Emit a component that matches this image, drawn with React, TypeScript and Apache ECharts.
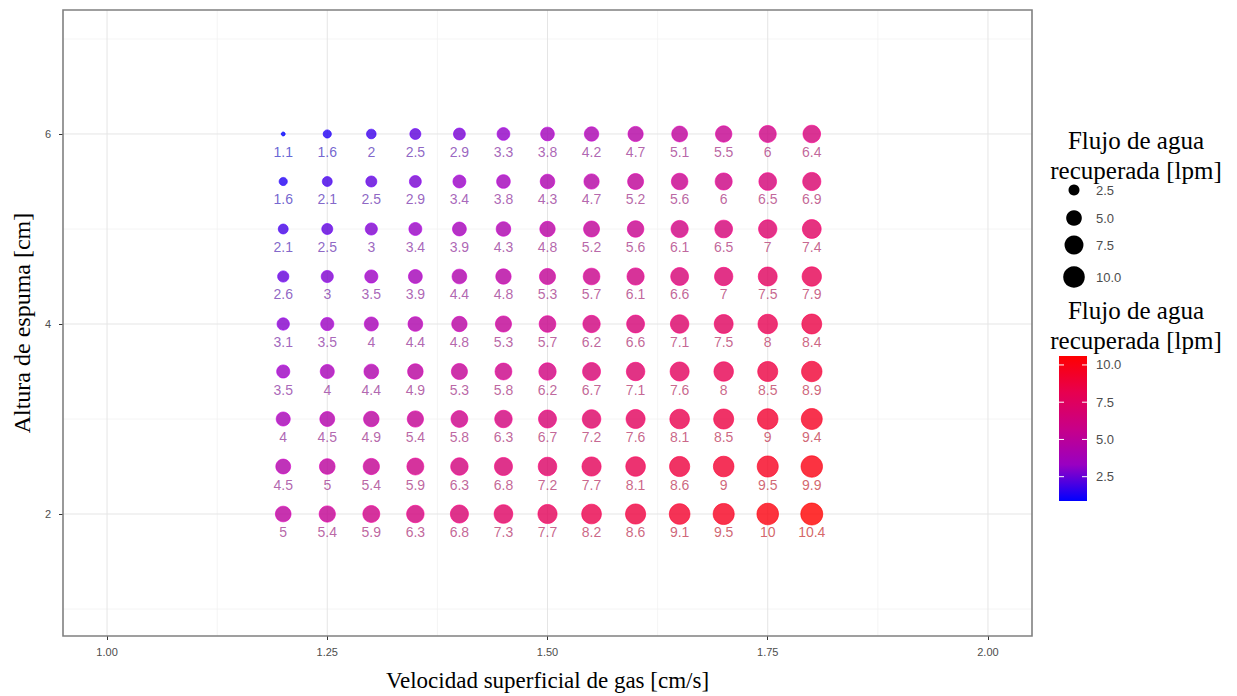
import React, { useEffect, useRef } from "react";
import * as echarts from "echarts";

const gasVelocity = [1.2, 1.25, 1.3, 1.35, 1.4, 1.45, 1.5, 1.55, 1.6, 1.65, 1.7, 1.75, 1.8];
const foamHeight = [6, 5.5, 5, 4.5, 4, 3.5, 3, 2.5, 2];
const flowRows = [
  [1.1, 1.6, 2, 2.5, 2.9, 3.3, 3.8, 4.2, 4.7, 5.1, 5.5, 6, 6.4],
  [1.6, 2.1, 2.5, 2.9, 3.4, 3.8, 4.3, 4.7, 5.2, 5.6, 6, 6.5, 6.9],
  [2.1, 2.5, 3, 3.4, 3.9, 4.3, 4.8, 5.2, 5.6, 6.1, 6.5, 7, 7.4],
  [2.6, 3, 3.5, 3.9, 4.4, 4.8, 5.3, 5.7, 6.1, 6.6, 7, 7.5, 7.9],
  [3.1, 3.5, 4, 4.4, 4.8, 5.3, 5.7, 6.2, 6.6, 7.1, 7.5, 8, 8.4],
  [3.5, 4, 4.4, 4.9, 5.3, 5.8, 6.2, 6.7, 7.1, 7.6, 8, 8.5, 8.9],
  [4, 4.5, 4.9, 5.4, 5.8, 6.3, 6.7, 7.2, 7.6, 8.1, 8.5, 9, 9.4],
  [4.5, 5, 5.4, 5.9, 6.3, 6.8, 7.2, 7.7, 8.1, 8.6, 9, 9.5, 9.9],
  [5, 5.4, 5.9, 6.3, 6.8, 7.3, 7.7, 8.2, 8.6, 9.1, 9.5, 10, 10.4],
];
const xTicks = [1.0, 1.25, 1.5, 1.75, 2.0];
const xMinorGrid = [1.125, 1.375, 1.625, 1.875];
const yTicks = [2, 4, 6];
const yMinorGrid = [1, 3, 5, 7];
const legendSizes = [2.5, 5.0, 7.5, 10.0];
const colorbarTicks = [2.5, 5.0, 7.5, 10.0];

const X_MIN = 0.95, X_MAX = 2.05, Y_MIN = 0.716, Y_MAX = 7.305;
const FLOW_MIN = 1.1;
const FLOW_MAX = 10.4;
const gradientStops = ["#0000FF", "#9900C2", "#C80088", "#E7004F", "#FF0000"];

const norm = (v: number) => Math.max(0, Math.min(1, (v - FLOW_MIN) / (FLOW_MAX - FLOW_MIN)));
const colorOf = (v: number) => echarts.color.lerp(norm(v), gradientStops) as string;
const sizeOf = (v: number) => 4 + 18 * Math.sqrt(norm(v));

export default function App() {
  const ref = useRef<HTMLDivElement>(null);
  useEffect(() => {
    document.body.style.margin = "0";
    const chart = echarts.init(ref.current!, null, { renderer: "svg" });

    const data: any[] = [];
    foamHeight.forEach((h, r) => {
      gasVelocity.forEach((g, c) => {
        const v = flowRows[r][c];
        const col = colorOf(v);
        data.push({
          value: [g, h, v],
          symbolSize: sizeOf(v),
          itemStyle: { color: col, borderColor: echarts.color.lift(col, -0.2), borderWidth: 0.8 },
          label: { color: echarts.color.lerp(0.45, [col, "#8a8a8a"]) },
        });
      });
    });

    const sans = "Liberation Sans";
    const serif = "Liberation Serif";
    const tickColor = "#4D4D4D";

    const cbX = 1059, cbW = 28, cbTop = 356, cbBottom = 501;
    const cbY = (v: number) => 476.7 - (v - 2.5) * 14.9;
    const legendX = 1074;
    const legendDotY = [190, 218, 245, 277];
    const titleCenterX = 1136;

    const titleText = (top: number) => ({
      type: "text",
      x: titleCenterX,
      y: top,
      style: {
        text: "Flujo de agua\nrecuperada [lpm]",
        font: `25px "${serif}"`,
        fill: "#000",
        align: "center",
        verticalAlign: "top",
        lineHeight: 30,
      },
    });

    const graphics: any[] = [
      titleText(125),
      titleText(295),
      {
        type: "rect",
        shape: { x: cbX, y: cbTop, width: cbW, height: cbBottom - cbTop },
        style: {
          fill: new echarts.graphic.LinearGradient(
            0, 1, 0, 0,
            gradientStops.map((c, i) => ({ offset: i / (gradientStops.length - 1), color: c }))
          ),
        },
      },
    ];
    legendSizes.forEach((v, i) => {
      graphics.push({
        type: "circle",
        shape: { cx: legendX, cy: legendDotY[i], r: sizeOf(v) / 2 },
        style: { fill: "#000" },
      });
      graphics.push({
        type: "text",
        x: 1096,
        y: legendDotY[i],
        style: { text: v.toFixed(1), font: `13px "${sans}"`, fill: tickColor, verticalAlign: "middle" },
      });
    });
    colorbarTicks.forEach((v) => {
      const y = cbY(v);
      graphics.push({ type: "line", shape: { x1: cbX, y1: y, x2: cbX + 5, y2: y }, style: { stroke: "#fff", lineWidth: 1 } });
      graphics.push({ type: "line", shape: { x1: cbX + cbW - 5, y1: y, x2: cbX + cbW, y2: y }, style: { stroke: "#fff", lineWidth: 1 } });
      graphics.push({
        type: "text",
        x: 1096,
        y,
        style: { text: v.toFixed(1), font: `13px "${sans}"`, fill: tickColor, verticalAlign: "middle" },
      });
    });

    const gridSeries = (pts: number[][], color: string, width: number) => ({
      type: "line",
      data: pts,
      symbol: "none",
      silent: true,
      z: 1,
      lineStyle: { color, width },
    });
    const grids: any[] = [
      ...xMinorGrid.map((x) => gridSeries([[x, Y_MIN], [x, Y_MAX]], "#F1F1F1", 0.8)),
      ...yMinorGrid.map((y) => gridSeries([[X_MIN, y], [X_MAX, y]], "#F1F1F1", 0.8)),
      ...xTicks.map((x) => gridSeries([[x, Y_MIN], [x, Y_MAX]], "#E5E5E5", 1)),
      ...yTicks.map((y) => gridSeries([[X_MIN, y], [X_MAX, y]], "#E5E5E5", 1)),
    ];

    chart.setOption({
      animation: false,
      backgroundColor: "#fff",
      grid: {
        left: 63,
        right: 1237 - 1032,
        top: 10,
        bottom: 696 - 636,
        outerBoundsMode: "none",
        containLabel: false,
        show: true,
        borderColor: "#808080",
        borderWidth: 1.6,
        backgroundColor: "transparent",
        z: 5,
      },
      xAxis: {
        type: "value",
        min: X_MIN,
        max: X_MAX,
        splitLine: { show: false },
        axisLine: { show: false },
        axisTick: { show: true, customValues: xTicks, length: 4, lineStyle: { color: "#333", width: 1 } },
        axisLabel: {
          customValues: xTicks,
          formatter: (v: number) => v.toFixed(2),
          color: tickColor,
          fontFamily: sans,
          fontSize: 11,
          margin: 10,
        },
        name: "Velocidad superficial de gas [cm/s]",
        nameLocation: "middle",
        nameGap: 33,
        nameTextStyle: { fontFamily: serif, fontSize: 23, color: "#000" },
      },
      yAxis: {
        type: "value",
        min: Y_MIN,
        max: Y_MAX,
        splitLine: { show: false },
        axisLine: { show: false },
        axisTick: { show: true, customValues: yTicks, length: 4, lineStyle: { color: "#333", width: 1 } },
        axisLabel: {
          customValues: yTicks,
          formatter: (v: number) => String(v),
          color: tickColor,
          fontFamily: sans,
          fontSize: 11,
          margin: 12,
        },
        name: "Altura de espuma [cm]",
        nameLocation: "middle",
        nameGap: 29,
        nameTextStyle: { fontFamily: serif, fontSize: 24, color: "#000" },
      },
      graphic: graphics,
      series: [
        ...grids,
        {
          type: "scatter",
          z: 3,
          data,
          label: {
            show: true,
            position: "inside",
            offset: [0, 18],
            fontFamily: sans,
            fontSize: 14,
            formatter: (p: any) => String(p.value[2]),
          },
        },
      ],
    });
    return () => chart.dispose();
  }, []);
  return <div ref={ref} style={{ width: 1237, height: 696 }} />;
}
